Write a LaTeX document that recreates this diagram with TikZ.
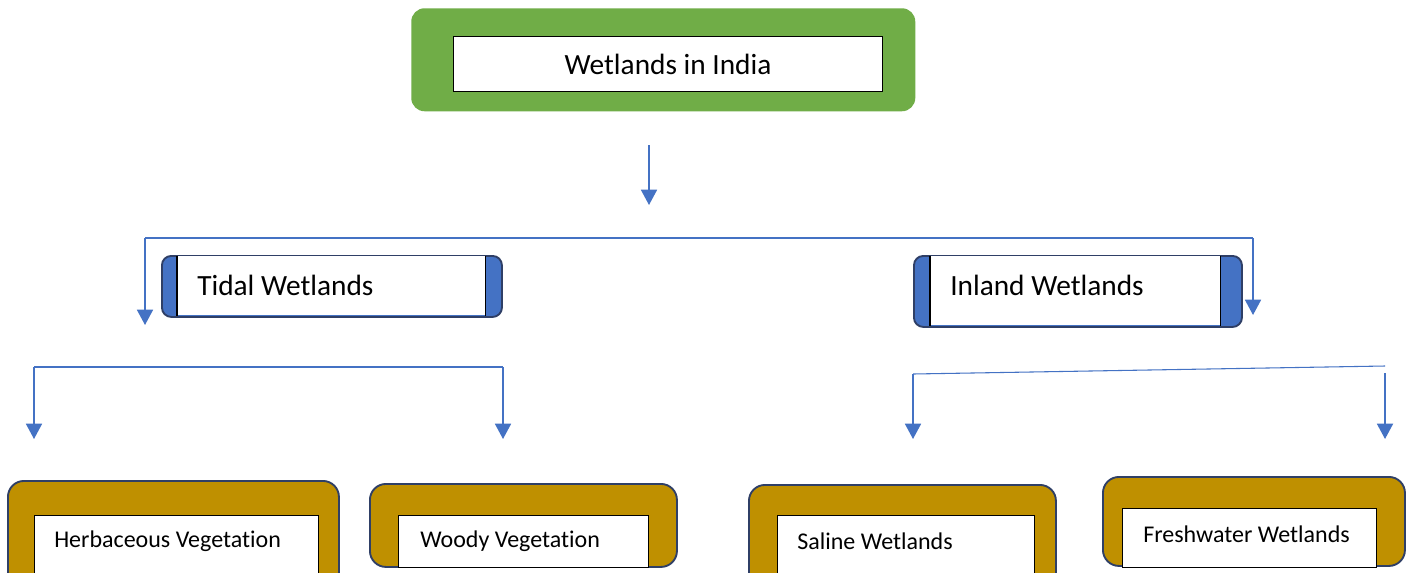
\documentclass[tikz,border=0pt]{standalone}
\usepackage{fontspec}
\setmainfont{Carlito}[Ligatures=NoCommon]
\usetikzlibrary{arrows.meta}
\definecolor{wgreen}{HTML}{70AD47}
\definecolor{wblue}{HTML}{4472C4}
\definecolor{wgold}{HTML}{BF9000}
\definecolor{wnavy}{HTML}{2F3F66}
\begin{document}
\begin{tikzpicture}[x=0.75pt,y=-0.75pt,
  greenbox/.style={fill=wgreen, draw=none, rounded corners=10pt, inner sep=0pt, anchor=north west},
  bluebox/.style={fill=wblue, draw=wnavy, line width=1.4pt, rounded corners=7pt, inner sep=0pt, anchor=north west},
  goldbox/.style={fill=wgold, draw=wnavy, line width=1.4pt, rounded corners=12pt, inner sep=0pt, anchor=north west},
  whitebox/.style={fill=white, draw=black, line width=0.8pt, inner sep=0pt, anchor=north west},
  whitefill/.style={fill=white, draw=none, inner sep=0pt, anchor=north west},
  bigtext/.style={font=\fontsize{22}{26}\selectfont, inner sep=0pt},
  smalltext/.style={font=\fontsize{18}{22}\selectfont, inner sep=0pt, anchor=west},
  hline/.style={draw=wblue, line width=0.8pt},
  arr/.style={draw=wblue, line width=1.3pt, -{Triangle[width=12pt,length=11.5pt]}}
]
\clip (0,0) rectangle (1408,572);
\fill[white] (0,0) rectangle (1408,572);

% top
\node[greenbox, minimum width=378pt, minimum height=77.25pt] (top) at (411,8) {};
\node[whitebox, minimum width=321.75pt, minimum height=41.25pt] (topin) at (453,36) {};
\node[bigtext] (toptext) at (topin.center) {Wetlands in India};

% tidal
\node[bluebox, minimum width=255pt, minimum height=45.75pt] (tidal) at (161,255) {};
\node[whitefill, minimum width=231pt, minimum height=44.5pt] (tidalin) at (177,255.8) {};
\draw[black, line width=0.8pt] (tidalin.north west) -- (tidalin.south west);
\draw[black, line width=0.8pt] (tidalin.north east) -- (tidalin.south east);
\node[bigtext, anchor=west] (tidaltext) at (197,285.5) {Tidal Wetlands};

% inland
\node[bluebox, minimum width=246pt, minimum height=53.25pt] (inland) at (913,255) {};
\node[whitefill, minimum width=217.5pt, minimum height=52pt] (inlandin) at (930,255.8) {};
\draw[black, line width=0.8pt] (inlandin.north west) -- (inlandin.south west);
\draw[black, line width=0.8pt] (inlandin.north east) -- (inlandin.south east);
\node[bigtext, anchor=west] (inlandtext) at (950,285.5) {Inland Wetlands};

% bottom boxes
\node[goldbox, minimum width=248.25pt, minimum height=96pt] (herb) at (7,480) {};
\node[whitebox, minimum width=213pt, minimum height=70pt] (herbin) at (34,515) {};
\node[smalltext] (herbtext) at (54,541) {Herbaceous Vegetation};

\node[goldbox, minimum width=230.25pt, minimum height=62.25pt] (woody) at (369,483) {};
\node[whitebox, minimum width=187.5pt, minimum height=39pt] (woodyin) at (398,515) {};
\node[smalltext] (woodytext) at (420,541) {Woody Vegetation};

\node[goldbox, minimum width=230.25pt, minimum height=96pt] (saline) at (748,484) {};
\node[whitebox, minimum width=192.75pt, minimum height=70pt] (salinein) at (777,515) {};
\node[smalltext] (salinetext) at (797,541) {Saline Wetlands};

\node[goldbox, minimum width=226.5pt, minimum height=66.75pt] (fresh) at (1102,476) {};
\node[whitebox, minimum width=190.5pt, minimum height=44.25pt] (freshin) at (1122,508) {};
\node[smalltext] (freshtext) at (1143,534) {Freshwater Wetlands};

% connectors
\coordinate (s1) at (649,145);
\coordinate (e1) at (649,205);
\draw[arr] (s1) -- (e1);

\coordinate (bl) at (145,238);
\coordinate (br) at (1253,238);
\coordinate (tl) at (145,325);
\coordinate (tr) at (1253,315);
\draw[hline] (bl) -- (br);
\draw[arr] (bl) -- (tl);
\draw[arr] (br) -- (tr);

\coordinate (cl) at (34,367);
\coordinate (cr) at (503,367);
\coordinate (dl) at (34,439);
\coordinate (dr) at (503,439);
\draw[hline] (cl) -- (cr);
\draw[arr] (cl) -- (dl);
\draw[arr] (cr) -- (dr);

\coordinate (il) at (913,374);
\coordinate (ir) at (1385,366);
\coordinate (ill) at (913,439);
\coordinate (irs) at (1385,373);
\coordinate (irr) at (1385,439);
\draw[hline] (il) -- (ir);
\draw[arr] (il) -- (ill);
\draw[arr] (irs) -- (irr);
\end{tikzpicture}
\end{document}
